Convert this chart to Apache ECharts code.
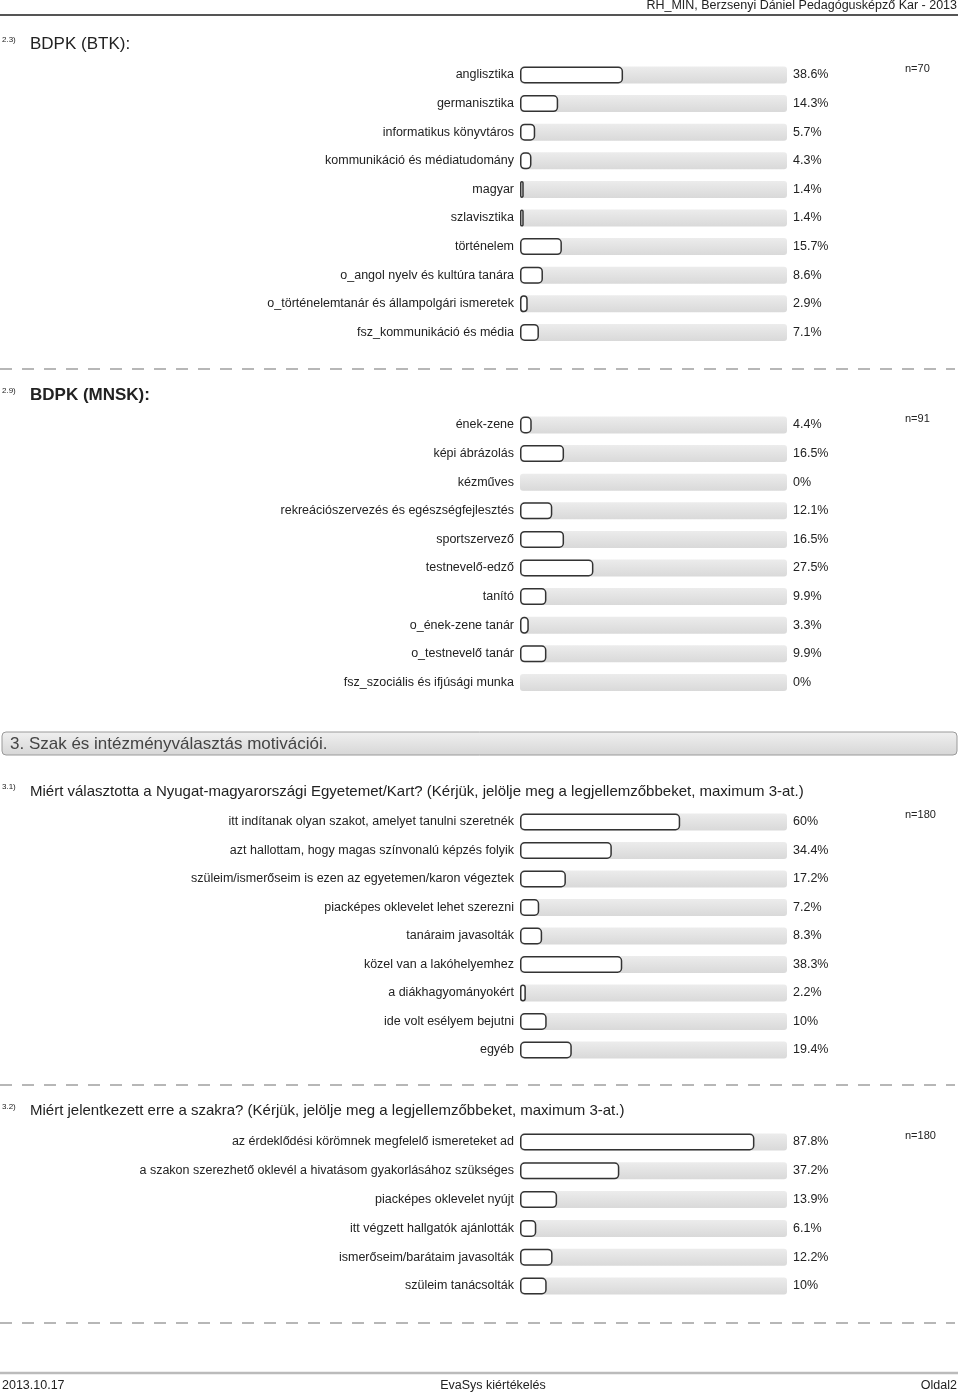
<!DOCTYPE html>
<html>
<head>
<meta charset="utf-8">
<script src="https://cdn.jsdelivr.net/npm/echarts@6/dist/echarts.min.js"></script>
<style>html,body{margin:0;padding:0;background:#fff}#c{width:960px;height:1395px}</style>
</head>
<body>
<div id="c"></div>
<script>
const btkCats = ['anglisztika','germanisztika','informatikus könyvtáros','kommunikáció és médiatudomány','magyar','szlavisztika','történelem','o_angol nyelv és kultúra tanára','o_történelemtanár és állampolgári ismeretek','fsz_kommunikáció és média'];
const btkVals = [38.6,14.3,5.7,4.3,1.4,1.4,15.7,8.6,2.9,7.1];
const mnskCats = ['ének-zene','képi ábrázolás','kézműves','rekreációszervezés és egészségfejlesztés','sportszervező','testnevelő-edző','tanító','o_ének-zene tanár','o_testnevelő tanár','fsz_szociális és ifjúsági munka'];
const mnskVals = [4.4,16.5,0,12.1,16.5,27.5,9.9,3.3,9.9,0];
const q31Cats = ['itt indítanak olyan szakot, amelyet tanulni szeretnék','azt hallottam, hogy magas színvonalú képzés folyik','szüleim/ismerőseim is ezen az egyetemen/karon végeztek','piacképes oklevelet lehet szerezni','tanáraim javasolták','közel van a lakóhelyemhez','a diákhagyományokért','ide volt esélyem bejutni','egyéb'];
const q31Vals = [60,34.4,17.2,7.2,8.3,38.3,2.2,10,19.4];
const q32Cats = ['az érdeklődési körömnek megfelelő ismereteket ad','a szakon szerezhető oklevél a hivatásom gyakorlásához szükséges','piacképes oklevelet nyújt','itt végzett hallgatók ajánlották','ismerőseim/barátaim javasolták','szüleim tanácsolták'];
const q32Vals = [87.8,37.2,13.9,6.1,12.2,10];
const nLabels = ['n=70','n=91','n=180','n=180'];

const FONT = '"Liberation Sans", Arial, sans-serif';
const sections = [
  {cats: btkCats, vals: btkVals, top: 60.7, rowH: 28.6},
  {cats: mnskCats, vals: mnskVals, top: 410.7, rowH: 28.6},
  {cats: q31Cats, vals: q31Vals, top: 807.75, rowH: 28.5},
  {cats: q32Cats, vals: q32Vals, top: 1127.6, rowH: 28.8}
];
const fmt = v => String(v) + '%';

const grid = [], xAxis = [], yAxis = [], series = [];
sections.forEach((s, i) => {
  grid.push({left: 520, width: 267, top: s.top, height: s.rowH * s.cats.length});
  xAxis.push({gridIndex: i, type: 'value', min: 0, max: 100, show: false});
  yAxis.push({gridIndex: i, type: 'category', inverse: true, data: s.cats,
    axisLine: {show: false}, axisTick: {show: false}, splitLine: {show: false},
    axisLabel: {margin: 6, fontSize: 12.5, color: '#222', fontFamily: FONT}});
  yAxis.push({gridIndex: i, type: 'category', inverse: true, position: 'right', data: s.vals.map(fmt),
    axisLine: {show: false}, axisTick: {show: false}, splitLine: {show: false},
    axisLabel: {margin: 6, fontSize: 12.5, color: '#222', fontFamily: FONT}});
  series.push({type: 'bar', xAxisIndex: i, yAxisIndex: i * 2, barWidth: 17,
    showBackground: true,
    backgroundStyle: {color: new echarts.graphic.LinearGradient(0,0,0,1,[{offset:0,color:'#ececec'},{offset:1,color:'#d9d9d9'}]), borderRadius: 3},
    silent: true, animation: false,
    data: s.vals.map(v => ({value: v, itemStyle: {color: '#fff', borderColor: '#333', borderWidth: v === 0 ? 0 : 1.5, borderRadius: 4, opacity: v === 0 ? 0 : 1}}))
  });
});

const T = (x, y, text, size, opts) => Object.assign({type: 'text', x: x, y: y, style: Object.assign({text: text, fontSize: size, fontFamily: FONT, fill: '#222', textVerticalAlign: 'middle'}, opts || {})});
const dash = y => ({type: 'line', shape: {x1: 0, y1: y, x2: 955, y2: y}, style: {stroke: '#a0a0a0', lineWidth: 1.5, lineDash: [12, 10]}});
const graphic = [
  T(957, 6, 'RH_MIN, Berzsenyi Dániel Pedagógusképző Kar - 2013', 12.5, {textAlign: 'right'}),
  {type: 'line', shape: {x1: 0, y1: 15, x2: 958, y2: 15}, style: {stroke: '#555', lineWidth: 2}},
  T(2, 40, '2.3)', 8),
  T(30, 44, 'BDPK (BTK):', 17),
  T(905, 69, nLabels[0], 11),
  dash(369),
  T(2, 391, '2.9)', 8),
  T(30, 395, 'BDPK (MNSK):', 17, {fontWeight: 'bold'}),
  T(905, 419, nLabels[1], 11),
  {type: 'rect', shape: {x: 2, y: 732, width: 955, height: 23, r: 4},
    style: {fill: new echarts.graphic.LinearGradient(0,0,0,1,[{offset:0,color:'#f0f0f0'},{offset:1,color:'#d6d6d6'}]), stroke: '#9a9a9a', lineWidth: 1}},
  T(10, 744, '3. Szak és intézményválasztás motivációi.', 17, {fill: '#444'}),
  T(2, 787, '3.1)', 8),
  T(30, 792, 'Miért választotta a Nyugat-magyarországi Egyetemet/Kart? (Kérjük, jelölje meg a legjellemzőbbeket, maximum 3-at.)', 15),
  T(905, 815, nLabels[2], 11),
  dash(1085),
  T(2, 1107, '3.2)', 8),
  T(30, 1111, 'Miért jelentkezett erre a szakra? (Kérjük, jelölje meg a legjellemzőbbeket, maximum 3-at.)', 15),
  T(905, 1136, nLabels[3], 11),
  dash(1323),
  {type: 'line', shape: {x1: 0, y1: 1373, x2: 958, y2: 1373}, style: {stroke: '#bbb', lineWidth: 2.5}},
  T(2, 1386, '2013.10.17', 12.5),
  T(493, 1386, 'EvaSys kiértékelés', 12.5, {textAlign: 'center'}),
  T(957, 1386, 'Oldal2', 12.5, {textAlign: 'right'})
];

const chart = echarts.init(document.getElementById('c'), null, {renderer: 'canvas'});
chart.setOption({animation: false, grid, xAxis, yAxis, series, graphic});
</script>
</body>
</html>
